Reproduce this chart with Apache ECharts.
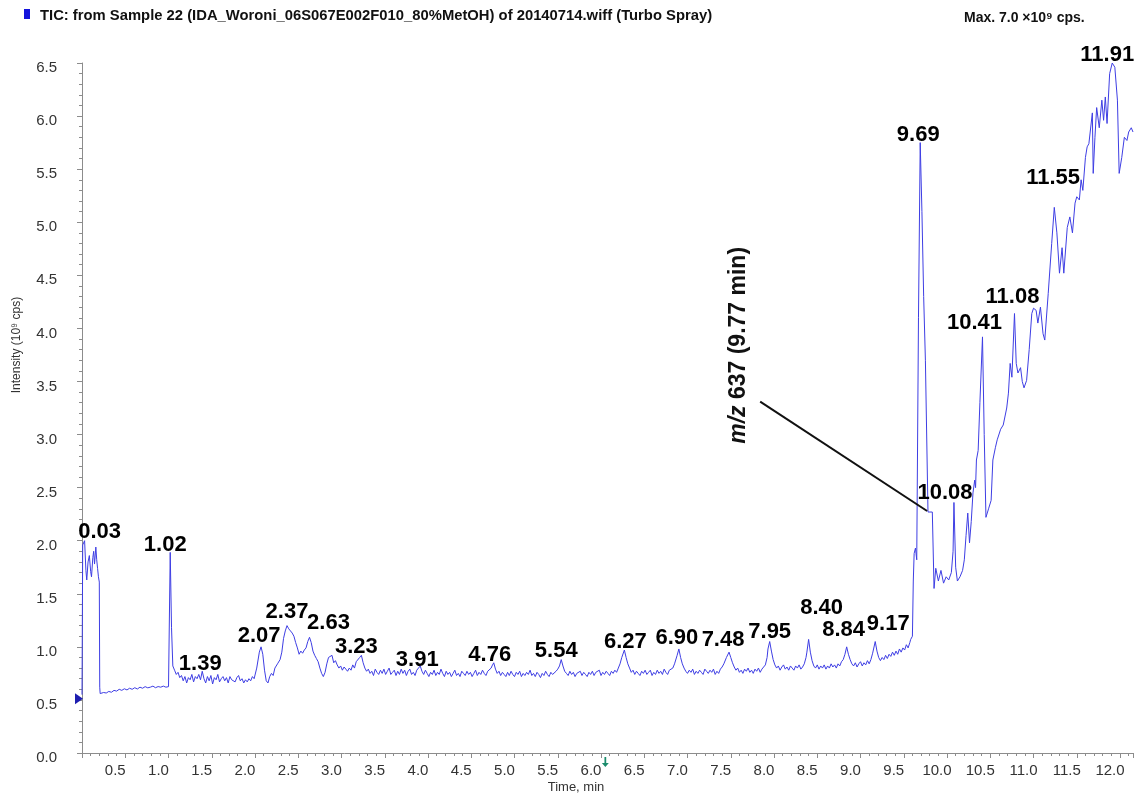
<!DOCTYPE html>
<html>
<head>
<meta charset="utf-8">
<script src="https://cdn.jsdelivr.net/npm/echarts@6/dist/echarts.min.js"></script>
<style>
  html, body { margin: 0; padding: 0; background: #fff; }
  #chart { width: 1136px; height: 797px; }
</style>
</head>
<body>
<div id="chart"></div>
<script>
// Total ion chromatogram: [time (min), intensity (10^9 cps)]
const ticTrace = [
  [0.000,0.55],[0.008,1.96],[0.015,1.97],[0.030,2.00],[0.045,1.72],[0.055,1.63],[0.070,1.80],[0.085,1.86],
  [0.100,1.71],[0.110,1.66],[0.125,1.84],[0.135,1.90],[0.145,1.78],[0.160,1.94],[0.170,1.82],[0.180,1.74],
  [0.190,1.66],[0.200,1.61],[0.205,0.62],[0.210,0.56],
  [0.25,0.57],[0.28,0.565],[0.31,0.58],[0.34,0.572],[0.37,0.59],[0.40,0.583],[0.43,0.60],[0.46,0.59],
  [0.49,0.605],[0.52,0.594],[0.55,0.61],[0.58,0.60],[0.61,0.615],[0.64,0.603],[0.67,0.62],[0.70,0.61],
  [0.73,0.625],[0.76,0.614],[0.79,0.62],[0.82,0.63],[0.85,0.615],[0.88,0.626],[0.91,0.62],[0.94,0.63],
  [0.97,0.62],[1.00,0.625],[1.01,0.64],[1.02,1.89],[1.035,1.18],[1.05,0.82],[1.07,0.78],[1.09,0.74],
  [1.11,0.76],[1.13,0.71],
  [1.15,0.73],[1.17,0.68],[1.19,0.72],[1.21,0.66],[1.23,0.71],[1.25,0.69],[1.27,0.74],[1.29,0.67],
  [1.31,0.72],[1.33,0.70],[1.35,0.74],[1.37,0.69],[1.39,0.77],[1.41,0.70],[1.43,0.66],[1.45,0.72],
  [1.47,0.68],[1.49,0.73],[1.51,0.65],[1.53,0.71],[1.55,0.69],[1.57,0.74],[1.59,0.67],[1.61,0.70],
  [1.63,0.72],[1.65,0.68],[1.67,0.71],[1.69,0.66],[1.71,0.72],[1.73,0.69],[1.75,0.70],[1.77,0.67],
  [1.79,0.71],[1.81,0.73],[1.83,0.68],[1.85,0.70],[1.87,0.66],[1.89,0.69],[1.91,0.67],[1.93,0.70],
  [1.95,0.68],[1.97,0.72],[1.99,0.70],[2.02,0.80],[2.05,0.95],[2.07,1.00],[2.09,0.93],[2.11,0.78],
  [2.13,0.68],[2.15,0.66],[2.17,0.72],[2.19,0.75],[2.21,0.73],[2.23,0.80],[2.26,0.84],[2.29,0.88],
  [2.31,0.95],[2.33,1.08],[2.35,1.15],[2.37,1.20],[2.39,1.17],[2.41,1.15],[2.43,1.13],[2.45,1.10],
  [2.47,1.04],[2.49,0.99],[2.51,0.93],[2.53,0.96],[2.55,0.94],[2.57,0.97],[2.59,0.99],[2.61,1.05],
  [2.63,1.09],[2.65,1.04],[2.67,0.96],[2.69,0.92],[2.71,0.89],[2.73,0.86],[2.75,0.80],[2.77,0.75],
  [2.79,0.72],[2.81,0.76],[2.83,0.84],[2.85,0.90],[2.87,0.89],[2.89,0.92],[2.91,0.85],[2.93,0.87],
  [2.95,0.83],[2.97,0.80],[2.99,0.82],[3.01,0.78],[3.03,0.81],[3.05,0.79],[3.07,0.77],[3.09,0.80],
  [3.11,0.78],[3.13,0.83],[3.15,0.80],[3.17,0.86],[3.19,0.85],[3.21,0.90],[3.23,0.92],[3.25,0.85],
  [3.27,0.80],[3.29,0.77],
  [3.31,0.79],[3.33,0.75],[3.35,0.77],[3.37,0.73],[3.39,0.79],[3.41,0.76],[3.43,0.74],[3.45,0.78],
  [3.47,0.75],[3.49,0.79],[3.51,0.74],[3.53,0.77],[3.55,0.80],[3.57,0.74],[3.59,0.76],[3.61,0.78],
  [3.63,0.73],[3.65,0.77],[3.67,0.74],[3.69,0.79],[3.71,0.75],[3.73,0.78],[3.75,0.73],[3.77,0.77],
  [3.79,0.79],[3.81,0.74],[3.83,0.76],[3.85,0.73],[3.87,0.78],[3.89,0.77],[3.91,0.82],[3.93,0.77],
  [3.95,0.74],[3.97,0.78],[3.99,0.75],[4.01,0.72],[4.03,0.76],[4.05,0.74],[4.07,0.78],[4.09,0.73],
  [4.11,0.76],[4.13,0.74],[4.15,0.79],[4.17,0.75],[4.19,0.72],[4.21,0.77],[4.23,0.74],[4.25,0.76],
  [4.27,0.72],[4.29,0.75],[4.31,0.78],[4.33,0.73],[4.35,0.75],[4.37,0.72],[4.39,0.77],[4.41,0.75],
  [4.43,0.73],[4.45,0.77],[4.47,0.74],[4.49,0.76],[4.51,0.72],[4.53,0.75],[4.55,0.78],[4.57,0.73],
  [4.59,0.76],[4.61,0.74],[4.63,0.78],[4.65,0.75],[4.67,0.73],[4.69,0.77],[4.71,0.76],[4.73,0.80],
  [4.74,0.82],[4.76,0.85],[4.78,0.79],[4.80,0.75],[4.82,0.77],[4.84,0.73],[4.86,0.76],[4.88,0.74],
  [4.90,0.72],[4.92,0.76],[4.94,0.73],[4.96,0.77],[4.98,0.74],[5.00,0.72],[5.02,0.76],[5.04,0.74],
  [5.06,0.77],[5.08,0.72],[5.10,0.75],[5.12,0.73],[5.14,0.76],[5.16,0.74],[5.18,0.78],[5.20,0.73],
  [5.22,0.75],[5.24,0.72],[5.26,0.76],[5.28,0.74],[5.30,0.71],[5.32,0.75],[5.34,0.73],[5.36,0.77],
  [5.38,0.74],[5.40,0.72],[5.42,0.76],[5.44,0.74],[5.46,0.73],[5.48,0.77],[5.50,0.79],[5.52,0.82],
  [5.54,0.88],[5.56,0.82],[5.58,0.77],[5.60,0.75],[5.62,0.73],[5.64,0.77],[5.66,0.74],[5.68,0.76],
  [5.70,0.72],[5.72,0.75],[5.74,0.74],[5.76,0.77],[5.78,0.73],[5.80,0.76],[5.82,0.74],[5.84,0.72],
  [5.86,0.76],[5.88,0.74],[5.90,0.77],[5.92,0.73],[5.94,0.76],[5.96,0.75],[5.98,0.78],[6.00,0.73],
  [6.02,0.76],[6.04,0.74],[6.06,0.77],[6.08,0.75],[6.10,0.73],[6.12,0.77],[6.14,0.75],[6.16,0.78],
  [6.18,0.76],[6.20,0.80],[6.22,0.84],[6.24,0.90],[6.27,0.97],[6.29,0.90],[6.31,0.84],[6.33,0.80],
  [6.35,0.76],[6.37,0.78],[6.39,0.74],[6.41,0.77],[6.43,0.75],[6.45,0.73],[6.47,0.77],[6.49,0.75],
  [6.51,0.78],[6.53,0.74],[6.55,0.76],[6.57,0.78],[6.59,0.73],[6.61,0.76],[6.63,0.74],[6.65,0.78],
  [6.67,0.75],[6.69,0.77],[6.71,0.74],[6.73,0.79],[6.75,0.76],[6.77,0.74],[6.79,0.78],[6.81,0.77],
  [6.83,0.80],[6.85,0.84],[6.88,0.92],[6.90,0.98],[6.92,0.90],[6.94,0.84],[6.96,0.80],[6.98,0.77],
  [7.00,0.75],[7.02,0.78],[7.04,0.76],[7.06,0.79],[7.08,0.74],[7.10,0.77],[7.12,0.75],[7.14,0.78],
  [7.16,0.76],[7.18,0.74],[7.20,0.79],[7.22,0.77],[7.24,0.75],[7.26,0.78],[7.28,0.76],[7.30,0.79],
  [7.32,0.74],[7.34,0.77],[7.36,0.75],[7.38,0.79],[7.40,0.81],[7.42,0.84],[7.45,0.90],[7.48,0.95],
  [7.50,0.90],[7.52,0.85],[7.54,0.81],[7.56,0.78],[7.58,0.80],[7.60,0.76],[7.62,0.78],[7.64,0.75],
  [7.66,0.79],[7.68,0.77],[7.70,0.80],[7.72,0.76],[7.74,0.78],[7.76,0.75],[7.78,0.79],[7.80,0.77],
  [7.82,0.80],[7.84,0.76],[7.86,0.79],[7.88,0.78],[7.90,0.83],[7.92,0.90],[7.93,0.98],[7.95,1.05],
  [7.97,0.96],[7.99,0.88],[8.01,0.83],[8.03,0.80],[8.05,0.82],[8.07,0.78],[8.09,0.81],[8.11,0.83],
  [8.13,0.79],[8.15,0.81],[8.17,0.78],[8.19,0.82],[8.21,0.80],[8.23,0.78],[8.25,0.82],[8.27,0.80],
  [8.29,0.83],[8.31,0.79],[8.33,0.81],[8.35,0.84],[8.37,0.90],[8.38,0.95],[8.40,1.07],[8.42,0.95],
  [8.44,0.87],[8.46,0.82],[8.48,0.80],[8.50,0.83],[8.52,0.79],[8.54,0.82],[8.56,0.80],[8.58,0.83],
  [8.60,0.79],[8.62,0.82],[8.64,0.80],[8.66,0.84],[8.68,0.81],[8.70,0.83],[8.72,0.80],[8.74,0.84],
  [8.76,0.82],[8.78,0.86],[8.80,0.88],[8.82,0.93],[8.84,1.00],[8.86,0.93],[8.88,0.88],[8.90,0.84],
  [8.92,0.82],[8.94,0.85],[8.96,0.81],[8.98,0.84],[9.00,0.86],[9.02,0.82],[9.04,0.85],[9.06,0.83],
  [9.08,0.87],[9.10,0.84],[9.12,0.88],[9.14,0.94],[9.17,1.05],[9.19,0.96],[9.21,0.90],[9.23,0.87],
  [9.25,0.90],[9.27,0.88],[9.29,0.92],[9.31,0.89],[9.33,0.93],[9.35,0.91],[9.37,0.95],[9.39,0.92],
  [9.41,0.96],[9.43,0.93],[9.45,0.98],[9.47,0.95],[9.49,0.99],[9.51,0.97],[9.53,1.02],[9.55,0.99],
  [9.57,1.04],[9.58,1.07],[9.60,1.10],
  [9.61,1.62],[9.62,1.88],[9.635,1.93],[9.65,1.82],[9.67,4.10],[9.69,5.75],[9.71,5.10],[9.73,4.30],
  [9.75,3.70],[9.78,2.27],[9.80,2.26],[9.83,2.27],[9.85,1.55],[9.87,1.74],[9.90,1.62],[9.93,1.72],
  [9.96,1.60],[9.99,1.66],[10.02,1.63],[10.05,1.70],[10.07,1.90],[10.08,2.36],[10.10,1.75],[10.12,1.62],
  [10.15,1.66],[10.18,1.72],[10.20,1.82],[10.22,2.05],[10.24,2.26],[10.26,1.98],[10.28,2.18],[10.30,2.45],
  [10.32,2.57],[10.33,2.50],[10.34,2.76],[10.36,2.85],[10.38,3.30],[10.41,3.92],[10.43,3.00],[10.45,2.22],
  [10.48,2.30],[10.51,2.38],[10.53,2.76],[10.56,2.88],[10.58,2.95],[10.62,3.05],[10.65,3.09],[10.67,3.10],
  [10.69,3.25],[10.71,3.39],[10.73,3.67],[10.75,3.54],[10.78,4.14],[10.80,3.67],[10.82,3.58],[10.85,3.63],
  [10.87,3.50],[10.89,3.44],[10.92,3.51],[10.95,3.80],[10.98,4.14],[11.00,4.19],[11.03,4.17],[11.05,4.05],
  [11.08,4.20],[11.11,3.95],[11.13,3.89],[11.17,4.33],[11.21,4.80],[11.24,5.14],[11.27,4.90],[11.30,4.52],
  [11.33,4.76],[11.35,4.52],[11.39,4.95],[11.42,5.05],[11.45,4.90],[11.48,5.18],[11.50,5.24],[11.53,5.21],
  [11.55,5.40],[11.57,5.30],[11.60,5.61],[11.62,5.71],[11.64,5.74],[11.68,6.03],[11.69,5.46],[11.71,5.80],
  [11.73,6.08],[11.76,5.89],[11.79,6.15],[11.81,5.96],[11.83,6.18],[11.85,5.93],[11.88,6.40],[11.91,6.50],
  [11.94,6.46],[11.97,6.15],[11.99,5.46],[12.02,5.61],[12.05,5.80],[12.08,5.77],[12.10,5.85],[12.13,5.89],
  [12.15,5.85]
];

// Retention times of the annotated peaks (min)
const peakTimes = [0.03, 1.02, 1.39, 2.07, 2.37, 2.63, 3.23, 3.91, 4.76, 5.54, 6.27, 6.90,
                   7.48, 7.95, 8.40, 8.84, 9.17, 9.69, 10.08, 10.41, 11.08, 11.55, 11.91];

// Pixel nudges for the peak labels [dx, dy], relative to each apex
const peakLabelShift = [[15,-9],[-5,-7],[-2,-7],[-2,-11],[0,-14],[19,-14],[-5,-8],[-3,-6],
                        [-4,-8],[-5,-9],[1,-8],[-2,-11],[-6,-12],[0,-10],[13,-31],[-3,-17],
                        [13,-18],[-2,-8],[-9,-10],[-8,-14],[-28,-10],[-28,-2],[-5,-8]];

// Axis ranges
const timeRange = [0, 12.15];
const intensityRange = [0, 6.5];
const tickStep = 0.5;

// Callout for the ion extracted at 9.77 min (data coordinates)
const calloutText = ['m/z', ' 637 (9.77 min)'];
const calloutTarget = [9.77, 2.28];
const calloutLineStart = [7.84, 3.31];
const calloutTextCenter = [7.59, 3.84];

// Start-of-run marker on the intensity axis and the sample marker on the time axis
const startMarker = [0, 0.51];
const timeMarker = [6.05, 0];

const traceColor = '#3e3ee4';
const axisColor = '#8c8c8c';
const FONT = '"Liberation Sans", Arial, sans-serif';

function intensityAt(t) {
  const p = ticTrace.find(d => Math.abs(d[0] - t) < 1e-6);
  return p ? p[1] : null;
}

// Each label is centred on its apex, then nudged by the shift above
const peakPoints = peakTimes.map((t, i) => ({
  value: [t, intensityAt(t)],
  label: {
    position: [peakLabelShift[i][0] + 0.5, peakLabelShift[i][1] + 0.5],
    align: 'center',
    verticalAlign: 'middle'
  }
}));

const chart = echarts.init(document.getElementById('chart'), null, { renderer: 'canvas' });

const fmt1 = v => v.toFixed(1);

chart.setOption({
  animation: false,
  backgroundColor: '#ffffff',
  grid: { left: 82, top: 63, width: 1051, height: 690 },
  xAxis: {
    type: 'value',
    min: timeRange[0],
    max: timeRange[1],
    interval: tickStep,
    axisLine: { show: true, onZero: false, lineStyle: { color: axisColor, width: 1 } },
    axisTick: { show: true, length: 5, lineStyle: { color: axisColor } },
    minorTick: { show: true, splitNumber: 5, length: 3, lineStyle: { color: axisColor } },
    splitLine: { show: false },
    minorSplitLine: { show: false },
    axisLabel: {
      formatter: fmt1, fontFamily: FONT, fontSize: 15,
      color: '#333', margin: 10, showMinLabel: false, showMaxLabel: false,
      padding: [0, 20, 0, 0]
    }
  },
  yAxis: {
    type: 'value',
    min: intensityRange[0],
    max: intensityRange[1],
    interval: tickStep,
    axisLine: { show: true, lineStyle: { color: axisColor, width: 1 } },
    axisTick: { show: true, length: 5, lineStyle: { color: axisColor } },
    minorTick: { show: true, splitNumber: 5, length: 3, lineStyle: { color: axisColor } },
    splitLine: { show: false },
    minorSplitLine: { show: false },
    axisLabel: {
      formatter: v => '{v|' + fmt1(v) + '}',
      margin: 25,
      rich: {
        v: { fontFamily: FONT, fontSize: 15, color: '#333', padding: [10, 0, 0, 0] }
      }
    }
  },
  series: [
    {
      type: 'line',
      data: ticTrace,
      showSymbol: false,
      symbol: 'none',
      smooth: false,
      clip: false,
      lineStyle: { color: traceColor, width: 1 },
      markLine: {
        silent: true,
        symbol: ['none', 'none'],
        label: { show: false },
        lineStyle: { color: '#111', width: 2, type: 'solid' },
        data: [[{ coord: calloutLineStart }, { coord: calloutTarget }]]
      },
      markPoint: {
        silent: true,
        label: { show: false },
        data: [
          { coord: startMarker, symbol: 'triangle', symbolSize: [11, 8], symbolRotate: -90,
            symbolOffset: [-3, 0], itemStyle: { color: '#1e1eb0' } },
          { coord: timeMarker, symbol: 'path://M3,0 L5,0 L5,6 L8,6 L4,10 L0,6 L3,6 Z',
            symbolSize: [7, 10], symbolOffset: [0, 9], itemStyle: { color: '#1b8c6c' } }
        ]
      }
    },
    {
      type: 'scatter',
      data: peakPoints,
      symbolSize: 1,
      itemStyle: { color: 'rgba(0,0,0,0)' },
      silent: true,
      z: 5,
      label: {
        show: true,
        formatter: p => peakTimes[p.dataIndex].toFixed(2),
        fontFamily: FONT,
        fontWeight: 'bold',
        fontSize: 22,
        color: '#000',
        opacity: 1
      },
      labelLayout: { hideOverlap: false }
    }
  ],
  graphic: {
    elements: [
      { id: 'legendSwatch', type: 'rect', shape: { x: 24, y: 9, width: 6, height: 10 },
        style: { fill: '#1414dc' } },
      { id: 'title', type: 'text', x: 40, y: 16,
        style: { text: 'TIC: from Sample 22 (IDA_Woroni_06S067E002F010_80%MetOH) of 20140714.wiff (Turbo Spray)',
                 font: 'bold 14.8px ' + FONT, fill: '#111', verticalAlign: 'middle' } },
      { id: 'maxNote', type: 'text', x: 964, y: 18,
        style: { text: 'Max. 7.0 \u00d710\u2079 cps.',
                 font: 'bold 14px ' + FONT, fill: '#111', verticalAlign: 'middle' } },
      { id: 'yName', type: 'text', x: 17, y: 345, rotation: Math.PI / 2,
        style: { text: 'Intensity (10\u2079 cps)', font: '12px ' + FONT,
                 fill: '#333', align: 'center', verticalAlign: 'middle' } },
      { id: 'xName', type: 'text', x: 576, y: 787,
        style: { text: 'Time, min', font: '13px ' + FONT,
                 fill: '#333', align: 'center', verticalAlign: 'middle' } }
    ]
  }
});

// Rotated callout label, anchored in data coordinates
const calloutPx = chart.convertToPixel({ gridIndex: 0 }, calloutTextCenter);
chart.setOption({
  graphic: {
    elements: [
      { id: 'callout', type: 'text', x: calloutPx[0], y: calloutPx[1], rotation: Math.PI / 2,
        style: {
          text: '{i|' + calloutText[0] + '}{b|' + calloutText[1] + '}',
          align: 'center', verticalAlign: 'middle',
          rich: {
            i: { fontFamily: FONT, fontSize: 23, fontWeight: 'bold', fontStyle: 'italic', fill: '#111' },
            b: { fontFamily: FONT, fontSize: 23, fontWeight: 'bold', fill: '#111' }
          }
        } }
    ]
  }
});
</script>
</body>
</html>
